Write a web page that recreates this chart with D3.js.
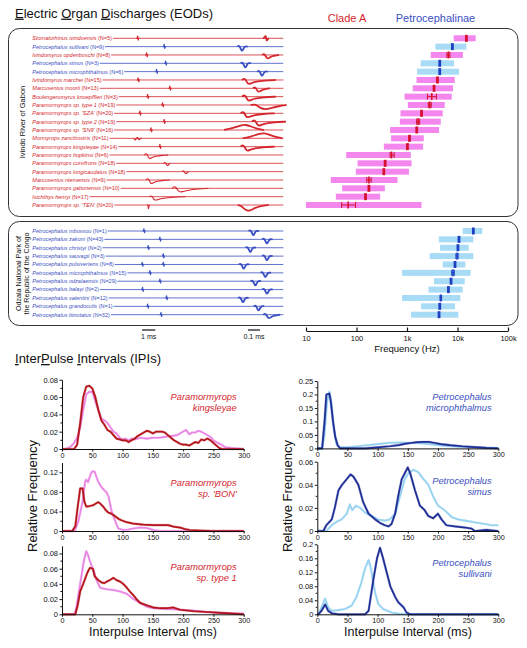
<!DOCTYPE html>
<html><head><meta charset="utf-8">
<script src="https://cdn.jsdelivr.net/npm/d3@7"></script>
<style>body{margin:0;background:#fff} svg{display:block;font-family:Arial,"Liberation Sans",sans-serif}</style>
</head><body><svg id="c" width="527" height="648"></svg>
<script>
// ---------------- DATA ----------------
const ivindoSpecies = ["Stomatorhinus ivindoensis","Petrocephalus sullivani","Ivindomyrus opdenboschi","Petrocephalus simus","Petrocephalus microphthalmus","Ivindomyrus marchei","Marcusenius moorii","Boulengeromyrus knoepffleri","Paramormyrops sp. type 1","Paramormyrops sp. 'SZA'","Paramormyrops sp. type 2","Paramormyrops sp. 'SN9'","Mormyrops zanclirostris","Paramormyrops kingsleyae","Paramormyrops hopkinsi","Paramormyrops curvifrons","Paramormyrops longicaudatus","Marcusenius ntemensis","Paramormyrops gabonensis","Isichthys henryi","Paramormyrops sp. 'TEN'"];
const ivindoN = [5,9,8,3,6,15,13,3,19,20,19,16,11,14,6,18,18,9,10,17,20];
const ivindoGroup = ["A","P","A","P","P","A","A","A","A","A","A","A","A","A","A","A","A","A","A","A","A"];
const ivindoSpikeMs = [8.08,10.07,8.75,10.18,9.5,8.12,10.5,8.83,9.95,8.25,10.07,9.08,8.08,9.75,8.87,10.25,11.63,9.0,11.12,9.25,8.87];
const ivindoSpikeShape = ["tick","tick","tick","tick","tick","tick","tick","tick","tick","tick","tick","tick","zig","tick","slowA","bi","bi","slowA","slowB","slowC","down"];
const ivindoWaveMs = [17.7,15.88,17.78,16.13,17.38,16.35,17.1,16.35,17.3,16.25,17.1,16.2,17.6,16.25,null,null,null,null,null,null,16.25];
const ivindoWaveShape = ["stom","petro","dip","petro","petro","dipTail","dip","dipTail","dipBroad","dipTail","dipTail","hump","hump","dipTail",null,null,null,null,null,null,"bigDip"];
const ivindoFreqLow  = [8410,3660,2950,1870,1580,1540,1300,893,1040,745,721,463,485,348,62.5,105,97,31,52,39,10];
const ivindoFreqHigh = [22900,15000,12800,8530,10700,8810,8150,7680,5590,5100,4660,4310,2150,2080,1190,1230,1090,649,364,294,1940];
const ivindoPeak     = [15000,7930,6610,4450,4450,4010,3430,3090,2820,1940,1660,1560,1120,1020,494,369,348,176,176,151,68.5];
const ivindoPeakLo   = [15000,7930,6170,4450,4450,4010,3430,2540,2640,1940,1550,1560,1120,1020,463,369,348,160,176,151,50.8];
const ivindoPeakHi   = [15000,7930,7080,4450,4450,4010,3430,3830,3020,1940,1780,1560,1120,1020,556,369,348,195,176,151,96];

const odzSpecies = ["Petrocephalus mbossou","Petrocephalus zakoni","Petrocephalus christyi","Petrocephalus sauvagii","Petrocephalus pulsivertens","Petrocephalus microphthalmus","Petrocephalus odzalaensis","Petrocephalus balayi","Petrocephalus valentini","Petrocephalus grandoculis","Petrocephalus binotatus"];
const odzN = [1,43,2,3,8,15,29,2,12,1,32];
const odzSpikeMs = [8.55,9.75,8.87,10.0,8.42,9.0,9.75,8.45,10.25,8.83,9.83];
const odzExtraSpikeMs = [null,null,null,null,10.0,null,null,null,null,null,null];
const odzWaveMs = [16.73,17.75,16.5,17.75,16.0,17.63,16.88,17.75,15.95,17.12,17.87];
const odzFreqLow  = [12700,4250,4510,2820,5100,800,3430,2660,800,1900,1200];
const odzFreqHigh = [31000,20600,16600,20600,14300,18200,13900,12700,11400,8930,10400];
const odzPeak     = [20600,10700,10200,9770,8930,8150,7450,6610,4660,4450,4310];
const odzPeakLo   = [20600,10700,10200,9300,8930,7680,7450,6610,4500,4450,4310];
const odzPeakHi   = [20600,10700,10200,10300,8930,8650,7450,6610,4850,4450,4310];

const freqTicks = [10,100,1000,10000,100000];
const freqTickLabels = ["10","100","1k","10k","100k"];
const msTicks = [0,50,100,150,200,250,300];

// IPI distributions: [ms, relative frequency]
const kingsleyaeA = [[0,0],[20,0],[25,0.005],[30,0.03],[35,0.06],[40,0.072],[45,0.073],[50,0.07],[55,0.06],[60,0.045],[65,0.033],[70,0.028],[75,0.022],[80,0.02],[85,0.016],[90,0.012],[95,0.011],[100,0.01],[105,0.01],[110,0.008],[115,0.01],[120,0.012],[125,0.015],[130,0.017],[135,0.019],[140,0.021],[145,0.02],[150,0.018],[155,0.02],[160,0.02],[165,0.02],[170,0.019],[175,0.016],[180,0.013],[185,0.01],[190,0.008],[195,0.006],[200,0.005],[205,0.005],[210,0.004],[215,0.006],[220,0.008],[225,0.007],[230,0.011],[235,0.01],[240,0.012],[245,0.01],[250,0.007],[255,0.004],[260,0.001],[265,0],[300,0]];
const kingsleyaeB = [[0,0],[5,0],[10,0.001],[15,0.003],[20,0.007],[25,0.013],[30,0.025],[35,0.045],[40,0.063],[45,0.066],[50,0.066],[55,0.055],[60,0.045],[65,0.035],[70,0.033],[75,0.03],[80,0.025],[85,0.02],[90,0.018],[95,0.013],[100,0.011],[105,0.012],[110,0.01],[115,0.012],[120,0.011],[125,0.012],[130,0.013],[140,0.012],[150,0.013],[160,0.013],[170,0.014],[180,0.015],[190,0.016],[195,0.018],[200,0.02],[205,0.022],[210,0.017],[215,0.019],[220,0.019],[225,0.021],[230,0.02],[235,0.018],[240,0.016],[245,0.014],[250,0.01],[255,0.008],[260,0.006],[265,0.004],[270,0.002],[280,0.001],[290,0.0005],[300,0]];
const bonA = [[0,0],[17,0],[22,0.01],[26,0.05],[30,0.087],[34,0.087],[37,0.06],[40,0.05],[46,0.051],[52,0.053],[57,0.057],[60,0.059],[64,0.055],[68,0.05],[72,0.043],[76,0.038],[82,0.035],[88,0.03],[93,0.025],[98,0.022],[107,0.018],[118,0.015],[134,0.013],[151,0.012],[167,0.012],[175,0.012],[184,0.009],[195,0.007],[203,0.004],[211,0.002],[228,0.001],[250,0],[300,0]];
const bonB = [[0,0],[21,0],[27,0.02],[34,0.06],[38,0.1],[40,0.105],[43,0.1],[47,0.115],[50,0.122],[54,0.121],[57,0.11],[60,0.1],[65,0.09],[70,0.083],[73,0.08],[77,0.07],[82,0.04],[88,0.02],[93,0.005],[101,0.002],[110,0.003],[118,0.005],[129,0.007],[140,0.006],[151,0.002],[160,0],[300,0]];
const type1A = [[0,0],[22,0],[26,0.012],[30,0.03],[35,0.04],[42,0.055],[46,0.061],[51,0.06],[54,0.05],[60,0.045],[65,0.042],[70,0.041],[74,0.043],[79,0.045],[85,0.048],[90,0.045],[96,0.043],[101,0.04],[107,0.035],[112,0.03],[118,0.025],[123,0.02],[129,0.015],[140,0.012],[151,0.009],[162,0.008],[173,0.008],[184,0.009],[195,0.006],[217,0.004],[239,0.003],[261,0.002],[283,0.001],[300,0]];
const type1B = [[0,0],[21,0],[24,0.01],[28,0.03],[32,0.05],[36,0.07],[40,0.083],[43,0.078],[46,0.07],[51,0.06],[57,0.045],[63,0.035],[68,0.034],[74,0.033],[85,0.032],[96,0.03],[107,0.027],[118,0.02],[129,0.015],[140,0.01],[151,0.008],[173,0.007],[195,0.006],[217,0.005],[239,0.003],[261,0.002],[283,0.001],[300,0.001]];
const microA = [[0,0],[8,0],[12,0.1],[15,0.2],[20,0.203],[22,0.18],[26,0.1],[30,0.04],[34,0.01],[38,0],[80,0],[100,0.004],[120,0.008],[135,0.012],[145,0.017],[155,0.02],[165,0.023],[175,0.024],[185,0.024],[195,0.02],[205,0.016],[220,0.012],[240,0.008],[260,0.005],[280,0.002],[300,0]];
const microB = [[0,0],[8,0],[12,0.05],[16,0.17],[20,0.21],[24,0.16],[28,0.06],[32,0.015],[38,0.004],[50,0.004],[75,0.01],[100,0.016],[120,0.021],[140,0.022],[160,0.02],[180,0.017],[200,0.012],[220,0.008],[250,0.004],[280,0.002],[300,0.001]];
const simusA = [[0,0],[10,0],[15,0.005],[24,0.01],[29,0.02],[35,0.035],[41,0.04],[49,0.045],[55,0.049],[60,0.047],[68,0.04],[76,0.025],[85,0.015],[96,0.01],[104,0.007],[112,0.005],[118,0.004],[123,0.006],[129,0.015],[134,0.03],[140,0.045],[145,0.05],[150,0.055],[154,0.05],[162,0.035],[170,0.022],[178,0.018],[184,0.013],[192,0.011],[200,0.015],[206,0.01],[214,0.005],[228,0.004],[245,0.003],[256,0.002],[261,0],[280,0.001],[300,0]];
const simusB = [[0,0],[15,0],[24,0.005],[32,0.008],[40,0.01],[49,0.015],[54,0.023],[58,0.018],[64,0.022],[71,0.02],[79,0.016],[90,0.013],[101,0.01],[112,0.009],[120,0.01],[129,0.015],[137,0.03],[145,0.045],[151,0.05],[159,0.053],[167,0.051],[176,0.045],[184,0.04],[192,0.03],[200,0.022],[211,0.018],[223,0.012],[234,0.01],[245,0.009],[256,0.008],[267,0.007],[278,0.006],[289,0.005],[300,0.005]];
const sullivaniA = [[0,0],[2,0],[7,0.01],[13,0.028],[18,0.01],[24,0.003],[35,0],[79,0],[85,0.01],[93,0.1],[99,0.16],[104,0.19],[109,0.16],[115,0.12],[121,0.08],[129,0.05],[134,0.035],[143,0.02],[148,0.005],[154,0],[300,0]];
const sullivaniB = [[0,0],[2,0],[7,0.02],[13,0.045],[18,0.02],[24,0.01],[35,0.012],[46,0.015],[57,0.025],[65,0.05],[73,0.09],[79,0.13],[85,0.155],[89,0.13],[96,0.06],[101,0.03],[109,0.015],[123,0.005],[134,0.002],[150,0],[300,0]];

// ---------------- STYLE / LAYOUT ----------------
const RED="#d4262d", BLUE="#3a4fc2", DRED="#b5141c", PINK="#e984e4", DBLUE="#1f2e96", LBLUE="#95d2f0";
const BAR_PINK="#f387ee", BAR_BLUE="#a8dcf6", MK_RED="#d5112e", MK_BLUE="#1f3fc2";
const svg = d3.select("#c");

// Titles
function underlinedTitle(x,y,parts,size){
  const t = svg.append("text").attr("x",x).attr("y",y).attr("font-size",size).attr("fill","#111");
  parts.forEach(p=>{ const s=t.append("tspan").text(p[0]); if(p[1]) s.style("text-decoration","underline"); });
}
underlinedTitle(15,17.6,[["E",1],["lectric ",0],["O",1],["rgan ",0],["D",1],["ischarges (EODs)",0]],13);
underlinedTitle(15,363,[["I",1],["nter",0],["P",1],["ulse ",0],["I",1],["ntervals (IPIs)",0]],13);
svg.append("text").attr("x",347).attr("y",21.5).attr("text-anchor","middle").attr("font-size",11).attr("fill",RED).text("Clade A");
svg.append("text").attr("x",435.5).attr("y",21.5).attr("text-anchor","middle").attr("font-size",11).attr("fill",BLUE).text("Petrocephalinae");

// Boxes
svg.append("rect").attr("x",8.5).attr("y",28.5).attr("width",509.5).attr("height",188).attr("rx",11).attr("fill","none").attr("stroke","#333").attr("stroke-width",1);
svg.append("rect").attr("x",8.5).attr("y",221.5).attr("width",509.5).attr("height",104).attr("rx",11).attr("fill","none").attr("stroke","#333").attr("stroke-width",1);
svg.append("text").attr("transform","translate(25,122) rotate(-90)").attr("text-anchor","middle").attr("font-size",7.5).attr("fill","#111").text("Ivindo River of Gabon");
svg.append("text").attr("transform","translate(20.5,273.5) rotate(-90)").attr("text-anchor","middle").attr("font-size",7.1).attr("fill","#111").text("Odzala National Park of");
svg.append("text").attr("transform","translate(29,273.5) rotate(-90)").attr("text-anchor","middle").attr("font-size",7.1).attr("fill","#111").text("the Republic of the Congo");

// Scales
const eodX = d3.scaleLinear().domain([0,19]).range([30,283.3]);
const freqX = d3.scaleLog().domain([10,100000]).range([306,508]);
const ivY = d3.scalePoint().domain(d3.range(ivindoSpecies.length)).range([38.3,205]);
const odY = d3.scalePoint().domain(d3.range(odzSpecies.length)).range([231,314.7]);

// waveform shape templates (dx, dy in px; dy>0 downward)
const shapes = {
  tick:[[-1.4,0],[-0.5,0.4],[0,-4.2],[0.45,3.6],[0.9,-0.4],[1.6,0]],
  down:[[-1.2,0],[-0.3,-0.8],[0.2,5.5],[0.7,0.3],[1.5,0]],
  zig:[[-4,0],[-2,3],[-0.5,-3],[1,2.5],[2.5,0.2],[4,0]],
  bi:[[-3,0],[-1.2,-1.6],[0.6,3.2],[2,1],[3.5,0]],
  slowA:[[-4,0],[-1.5,-2.5],[0.8,4.5],[3,2.8],[7,1.2],[14,0.3],[20,0]],
  slowB:[[-6,0],[-3,-3],[0.5,4.2],[4,3.4],[10,1.8],[20,0.6],[30,0]],
  slowC:[[-4,0],[-1.5,-1.5],[1,4.2],[4,3],[10,1.5],[20,0.5],[32,0]],
  stom:[[-3,0],[-1,-1],[-0.2,-3.5],[0.6,3.5],[1.5,0.8],[3,0]],
  petro:[[-4.5,0],[-2.2,-1.6],[0,5.5],[1.5,2.6],[3,-0.6],[6,0]],
  dip:[[-5,0],[-2.5,-1.8],[0,4.5],[2.5,2.5],[6,0.8],[12,0]],
  dipTail:[[-6,0],[-3,-2.5],[0,5],[3,3.2],[8,1.6],[16,0.6],[28,0]],
  dipBroad:[[-10,0],[-5,-1],[0,3.5],[5,4.5],[11,2.8],[18,1.2],[26,0]],
  hump:[[-22,0],[-14,-1.5],[-6,-4.5],[0,-5.5],[5,-3.5],[11,-1.2],[18,0]],
  bigDip:[[-9,0],[-5,1],[-1,5.5],[3,6],[8,3],[14,0.8],[22,0]]
};
const wline = d3.line().curve(d3.curveBasis);
function drawWave(x,y,shape,color,w){
  if(!shape) return;
  svg.append("path").attr("d",wline(shapes[shape].map(([dx,dy])=>[x+dx,y+dy]))).attr("fill","none").attr("stroke",color).attr("stroke-width",w).attr("stroke-linejoin","round");
}

function drawRow(y,name,n,color,spikeMs,spikeShape,waveMs,waveShape,extraSpike){
  const t = svg.append("text").attr("x",32.3).attr("y",y+1.9).attr("font-size",5.5).attr("fill",color);
  t.append("tspan").attr("font-style","italic").text(name);
  t.append("tspan").text(" (N="+n+")");
  const end = 32.3 + t.node().getComputedTextLength() + 1;
  svg.append("line").attr("x1",end).attr("x2",eodX(19)).attr("y1",y).attr("y2",y).attr("stroke",color).attr("stroke-width",0.8);
  drawWave(eodX(spikeMs),y,spikeShape,color,1.1);
  if(extraSpike!=null) drawWave(eodX(extraSpike),y,"tick",color,1.1);
  if(waveMs!=null) drawWave(eodX(waveMs),y,waveShape,color,1.8);
}

function drawFreq(y,lo,hi,pk,pLo,pHi,group){
  const isA = group==="A";
  svg.append("rect").attr("x",freqX(lo)).attr("y",y-3).attr("width",freqX(hi)-freqX(lo)).attr("height",6).attr("fill",isA?BAR_PINK:BAR_BLUE);
  const mc = isA?MK_RED:MK_BLUE;
  const x0=freqX(pLo), x1=freqX(pHi);
  if(x1-x0>1.5){
    svg.append("line").attr("x1",x0).attr("x2",x1).attr("y1",y).attr("y2",y).attr("stroke",mc).attr("stroke-width",1);
    [x0,x1].forEach(xx=>svg.append("line").attr("x1",xx).attr("x2",xx).attr("y1",y-3).attr("y2",y+3).attr("stroke",mc).attr("stroke-width",1));
    svg.append("rect").attr("x",freqX(pk)-0.8).attr("y",y-3.5).attr("width",1.6).attr("height",7).attr("fill",mc);
  } else {
    svg.append("rect").attr("x",freqX(pk)-1.4).attr("y",y-3.5).attr("width",2.8).attr("height",7).attr("fill",mc);
  }
}

ivindoSpecies.forEach((s,i)=>{
  const c = ivindoGroup[i]==="A"?RED:BLUE;
  drawRow(ivY(i),s,ivindoN[i],c,ivindoSpikeMs[i],ivindoSpikeShape[i],ivindoWaveMs[i],ivindoWaveShape[i],null);
  drawFreq(ivY(i),ivindoFreqLow[i],ivindoFreqHigh[i],ivindoPeak[i],ivindoPeakLo[i],ivindoPeakHi[i],ivindoGroup[i]);
});
odzSpecies.forEach((s,i)=>{
  drawRow(odY(i),s,odzN[i],BLUE,odzSpikeMs[i],"tick",odzWaveMs[i],i===10?"dip":"petro",odzExtraSpikeMs[i]);
  drawFreq(odY(i),odzFreqLow[i],odzFreqHigh[i],odzPeak[i],odzPeakLo[i],odzPeakHi[i],"P");
});

// Scale bars
[[eodX(8.4),eodX(9.4),"1 ms"],[eodX(16.35),eodX(17.25),"0.1 ms"]].forEach(([a,b,l])=>{
  svg.append("line").attr("x1",a).attr("x2",b).attr("y1",330).attr("y2",330).attr("stroke","#111").attr("stroke-width",1.2);
  svg.append("text").attr("x",(a+b)/2).attr("y",338.5).attr("text-anchor","middle").attr("font-size",7).attr("fill","#111").text(l);
});

// Frequency axis
const fa = svg.append("g").attr("transform","translate(0,331)")
  .call(d3.axisBottom(freqX).tickValues(freqTicks).tickFormat((d,i)=>freqTickLabels[i]).tickSize(-3.5).tickSizeOuter(0).tickPadding(5));
fa.selectAll("text").attr("font-size",7.5).attr("fill","#111").attr("font-family","Arial,Liberation Sans,sans-serif");
fa.selectAll("line,path").attr("stroke","#111").attr("stroke-width",1.2);
svg.append("text").attr("x",407).attr("y",351.5).attr("text-anchor","middle").attr("font-size",9.5).attr("fill","#111").text("Frequency (Hz)");

// ---------------- IPI panels ----------------
const panels = [
  {x0:62,x1:243.7,y0:449,ymax:0.08,yTop:379.7,ticks:[0,0.02,0.04,0.06,0.08],minor:[0.01,0.03,0.05,0.07],top:0.08,a:kingsleyaeA,b:kingsleyaeB,ca:DRED,cb:PINK,lab:["Paramormyrops","kingsleyae"],lc:RED,lx:236.7,ly:400},
  {x0:62,x1:243.7,y0:531,ymax:0.12,yTop:472.3,ticks:[0,0.04,0.08,0.12],minor:[0.02,0.06,0.1],top:0.14,a:bonA,b:bonB,ca:DRED,cb:PINK,lab:["Paramormyrops","sp. 'BON'"],lc:RED,lx:236.7,ly:486},
  {x0:62,x1:243.7,y0:614.3,ymax:0.08,yTop:553.5,ticks:[0,0.02,0.04,0.06,0.08],minor:[0.01,0.03,0.05,0.07],top:0.09,a:type1A,b:type1B,ca:DRED,cb:PINK,lab:["Paramormyrops","sp. type 1"],lc:RED,lx:236.7,ly:569.5},
  {x0:317.3,x1:498.3,y0:448.4,ymax:0.25,yTop:381,ticks:[0,0.05,0.1,0.15,0.2,0.25],minor:[0.025,0.075,0.125,0.175,0.225],top:0.25,a:microA,b:microB,ca:DBLUE,cb:LBLUE,lab:["Petrocephalus","microphthalmus"],lc:BLUE,lx:491.7,ly:400},
  {x0:317.3,x1:498.3,y0:531,ymax:0.06,yTop:461.7,ticks:[0,0.02,0.04,0.06],minor:[0.01,0.03,0.05],top:0.06,a:simusA,b:simusB,ca:DBLUE,cb:LBLUE,lab:["Petrocephalus","simus"],lc:BLUE,lx:491.7,ly:483.5},
  {x0:317.3,x1:498.3,y0:614.3,ymax:0.2,yTop:544.3,ticks:[0,0.04,0.08,0.12,0.16,0.2],minor:[0.02,0.06,0.1,0.14,0.18],top:0.2,a:sullivaniA,b:sullivaniB,ca:DBLUE,cb:LBLUE,lab:["Petrocephalus","sullivani"],lc:BLUE,lx:491.7,ly:566}
];
panels.forEach(p=>{
  const x = d3.scaleLinear().domain([0,300]).range([p.x0,p.x1]);
  const y = d3.scaleLinear().domain([0,p.ymax]).range([p.y0,p.yTop]);
  const g = svg.append("g");
  const line = d3.line().x(d=>x(d[0])).y(d=>y(d[1])).curve(d3.curveLinear);
  g.append("path").attr("d",line(p.b)).attr("fill","none").attr("stroke",p.cb).attr("stroke-width",2.6).attr("stroke-opacity",0.35).attr("stroke-linejoin","round");
  g.append("path").attr("d",line(p.b)).attr("fill","none").attr("stroke",p.cb).attr("stroke-width",1.6).attr("stroke-linejoin","round");
  g.append("path").attr("d",line(p.a)).attr("fill","none").attr("stroke",p.ca).attr("stroke-width",2.6).attr("stroke-opacity",0.3).attr("stroke-linejoin","round");
  g.append("path").attr("d",line(p.a)).attr("fill","none").attr("stroke",p.ca).attr("stroke-width",1.7).attr("stroke-linejoin","round");
  const xa = g.append("g").attr("transform",`translate(0,${p.y0})`).call(d3.axisBottom(x).tickValues(msTicks).tickSize(2.5).tickSizeOuter(0).tickPadding(1));
  const ya = g.append("g").attr("transform",`translate(${p.x0},0)`).call(d3.axisLeft(y.copy().domain([0,p.top]).range([p.y0,y(p.top)])).tickValues(p.ticks).tickFormat(d=>String(d)).tickSize(2.5).tickSizeOuter(0).tickPadding(1.5));
  ya.selectAll(".minor").data(p.minor).enter().append("line").attr("x1",0).attr("x2",-1.6).attr("y1",d=>y(d)).attr("y2",d=>y(d)).attr("stroke","#111");
  xa.selectAll("text").attr("font-size",7.2);
  ya.selectAll("text").attr("font-size",7.5);
  [xa,ya].forEach(a=>{a.selectAll("text").attr("fill","#111").attr("font-family","Arial,Liberation Sans,sans-serif");a.selectAll("line,path").attr("stroke","#111").attr("stroke-width",1);});
  p.lab.forEach((l,i)=>g.append("text").attr("x",p.lx).attr("y",p.ly+i*11.3).attr("text-anchor","end").attr("font-size",9.3).attr("font-style","italic").attr("fill",p.lc).text(l));
});
[[37.3,153],[291.7,408]].forEach(([rx,cx])=>{
  svg.append("text").attr("transform",`translate(${rx},496) rotate(-90)`).attr("text-anchor","middle").attr("font-size",13).attr("fill","#111").text("Relative Frequency");
  svg.append("text").attr("x",cx).attr("y",636).attr("text-anchor","middle").attr("font-size",12.5).attr("fill","#111").text("Interpulse Interval (ms)");
});
</script></body></html>
